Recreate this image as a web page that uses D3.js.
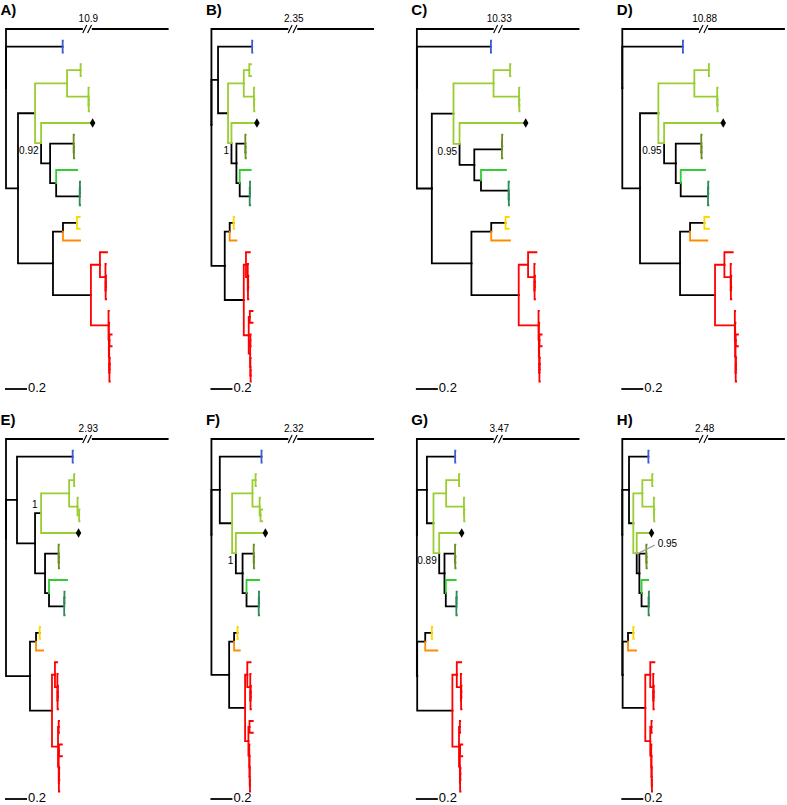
<!DOCTYPE html>
<html><head><meta charset="utf-8">
<script src="https://cdn.jsdelivr.net/npm/d3@7"></script>
<style>
html,body{margin:0;padding:0;background:#fff;}
svg{display:block;font-family:"Liberation Sans",Arial,Helvetica,sans-serif;}
</style></head>
<body>
<svg id="chart" width="787" height="805"></svg>
<script>
// ---------- DATA ----------
const panelLetters = ["A)", "B)", "C)", "D)", "E)", "F)", "G)", "H)"];
const outgroupLengths = ["10.9", "2.35", "10.33", "10.88", "2.93", "2.32", "3.47", "2.48"];
// support label placement per panel
const supportStyle = ["below", "below", "below", "below", "above", "below", "below", "leader"];
// Trees in Newick; node name = colour code, optional "#support"
const newick = [
"(out:1,(b:0.002,b:0.002):0.515,((((g:0.003,g:0.003)g:0.123,(g:0.003,(g:0.003,g:0.003)g:0.002)g:0.195)g:0.291,(d:0.464,((o:0.003,(o:0.003,o:0.003)o:0.002):0.214,(l:0.191,((t:0.002,t:0.002)t:0.002,t:0.004):0.214):0.055):0.082)g#0.92:0.055):0.155,(((y:0.025,y:0.025):0.127,n:0.155):0.091,((r:0.064,(r:0.003,((r:0.002,r:0.002)r:0.002,r:0.004)r:0.002)r:0.05)r:0.082,(r:0.003,(r:0.003,((r:0.02,r:0.02)r:0.002,((r:0.002,r:0.002)r:0.002,r:0.004)r:0.002)r:0.003)r:0.003)r:0.16):0.345):0.318):0.109);",
"(out:1,((b:0.002,b:0.002):0.31,(((g:0.015,g:0.015)g:0.05,(g:0.003,(g:0.003,g:0.003)g:0.002)g:0.092)g:0.143,(d:0.227,((o:0.003,(o:0.003,o:0.003)o:0.002):0.081,(l:0.1,((t:0.002,t:0.002)t:0.002,t:0.004):0.091):0.03):0.045)g#1:0.031):0.091):0.06,(((y:0.004,y:0.004):0.036,n:0.061):0.045,((r:0.035,(r:0.003,((r:0.002,r:0.002)r:0.002,r:0.004)r:0.002)r:0.016)r:0.02,((r:0.025,r:0.025)r:0.01,((r:0.003,r:0.003)r:0.002,(r:0.003,(r:0.002,r:0.002)r:0.002)r:0.002)r:0.013)r:0.045):0.173):0.121);",
"(out:1,(b:0.002,b:0.002):0.673,((((g:0.003,g:0.003)g:0.15,(g:0.003,(g:0.003,g:0.003)g:0.002)g:0.232)g:0.364,(d:0.597,(((o:0.002,o:0.002)o:0.002,o:0.004):0.251,(l:0.227,(t:0.004,(t:0.002,t:0.002)t:0.002):0.251):0.061):0.134)g#0.95:0.055):0.197,(((y:0.03,y:0.03):0.13,n:0.17):0.18,((r:0.076,(r:0.003,((r:0.002,r:0.002)r:0.002,r:0.004)r:0.002)r:0.057)r:0.085,(r:0.003,(r:0.003,((r:0.02,r:0.02)r:0.002,((r:0.002,r:0.002)r:0.002,r:0.004)r:0.002)r:0.003)r:0.003)r:0.18):0.43):0.36):0.136);",
"(out:1,(b:0.002,b:0.002):0.551,((((g:0.003,g:0.003)g:0.132,(g:0.003,(g:0.003,g:0.003)g:0.002)g:0.208)g:0.327,(d:0.533,((o:0.003,(o:0.003,o:0.003)o:0.002):0.232,(l:0.221,((t:0.002,t:0.002)t:0.002,t:0.004):0.248):0.045):0.106)g#0.95:0.052):0.167,(((y:0.042,y:0.042):0.13,n:0.157):0.091,((r:0.076,(r:0.003,((r:0.002,r:0.002)r:0.002,r:0.004)r:0.002)r:0.057)r:0.085,(r:0.003,(r:0.003,((r:0.02,r:0.02)r:0.002,((r:0.002,r:0.002)r:0.002,r:0.004)r:0.002)r:0.003)r:0.003)r:0.18):0.318):0.364):0.161);",
"(out:1,((b:0.002,b:0.002):0.506,((((g:0.003,g:0.003)g:0.045,(g:0.003,(g:0.003,g:0.003)g:0.015)g:0.076)g:0.255,d:0.336)#1:0.055,((o:0.003,(o:0.003,o:0.003)o:0.002):0.123,(l:0.164,((t:0.002,t:0.002)t:0.002,t:0.004):0.138):0.036):0.091):0.164):0.1,(((y:0.004,y:0.004):0.033,n:0.064):0.055,((r:0.02,(r:0.003,((r:0.002,r:0.002)r:0.002,r:0.004)r:0.002)r:0.022)r:0.027,((r:0.003,r:0.003)r:0.006,((r:0.027,r:0.027)r:0.002,((r:0.002,r:0.002)r:0.002,r:0.004)r:0.002)r:0.006)r:0.055):0.2):0.218);",
"(out:1,((b:0.002,b:0.002):0.379,(((g:0.003,g:0.003)g:0.028,(g:0.003,(g:0.015,g:0.015)g:0.008)g:0.065)g:0.185,(d:0.264,((o:0.003,(o:0.003,o:0.003)o:0.002):0.101,(l:0.115,((t:0.002,t:0.002)t:0.002,t:0.004):0.111):0.036):0.061)g#1:0.034):0.112):0.076,(((y:0.004,y:0.004):0.031,n:0.052):0.045,((r:0.03,(r:0.003,((r:0.002,r:0.002)r:0.002,r:0.004)r:0.002)r:0.027)r:0.02,((r:0.03,r:0.03)r:0.01,(r:0.002,(r:0.002,(r:0.002,(r:0.002,r:0.002)r:0.002)r:0.002)r:0.002)r:0.008)r:0.03):0.145):0.161);",
"(out:1,((b:0.002,b:0.002):0.257,(((g:0.003,g:0.003)g:0.117,(g:0.003,(g:0.003,g:0.003)g:0.002)g:0.162)g:0.115,(d:0.2,((o:0.003,(o:0.003,o:0.003)o:0.002):0.096,(l:0.09,((t:0.002,t:0.002)t:0.002,t:0.004):0.096):0.012):0.048)g#0.89:0.052):0.06):0.091,(((y:0.004,y:0.004):0.06,n:0.11):0.073,((r:0.04,(r:0.003,((r:0.002,r:0.002)r:0.002,r:0.004)r:0.002)r:0.037)r:0.04,((r:0.003,r:0.003)r:0.008,((r:0.02,r:0.02)r:0.002,((r:0.002,r:0.002)r:0.002,r:0.004)r:0.002)r:0.008)r:0.06):0.32):0.003);",
"(out:1,((b:0.002,b:0.002):0.176,(((g:0.003,g:0.003)g:0.09,(g:0.003,(g:0.003,g:0.003)g:0.002)g:0.105)g:0.082,(d:0.13,((o:0.003,(o:0.003,o:0.003)o:0.002):0.063,(l:0.06,((t:0.002,t:0.002)t:0.002,t:0.004):0.064):0.02):0.024)g#0.95:0.031):0.039):0.061,(((y:0.004,y:0.004):0.048,n:0.073):0.049,((r:0.038,(r:0.003,((r:0.002,r:0.002)r:0.002,r:0.004)r:0.002)r:0.027)r:0.045,((r:0.003,r:0.003)r:0.011,(r:0.002,(r:0.002,(r:0.002,(r:0.002,r:0.002)r:0.002)r:0.002)r:0.002)r:0.009)r:0.045):0.206):0.003);"
];
const cladeColors = {"": "#000000", out: "#000000", b: "#3b5fce", g: "#9acd32", d: "#9acd32",
  o: "#6b8e23", l: "#32cd32", t: "#2e8b57", y: "#ffd700", n: "#ff8c00", r: "#ff0000"};
const scaleBarValue = 0.2;
const outgroupDisplay = 1.47; // truncated display length of the broken outgroup branch

// ---------- PARSER ----------
function parseNewick(s) {
  let i = 0;
  function node() {
    const n = {children: []};
    if (s[i] === "(") {
      i++;
      n.children.push(node());
      while (s[i] === ",") { i++; n.children.push(node()); }
      i++;
    }
    let name = "";
    while (i < s.length && !":,);".includes(s[i])) name += s[i++];
    let len = 0;
    if (s[i] === ":") { i++; let t = ""; while (i < s.length && !",);".includes(s[i])) t += s[i++]; len = +t; }
    const parts = name.split("#");
    n.col = parts[0] || "";
    if (parts.length > 1) n.support = parts[1];
    n.len = len;
    if (!n.children.length) delete n.children;
    return n;
  }
  return node();
}

// ---------- DRAW ----------
const svg = d3.select("#chart");
const colX = d3.scaleLinear().domain([0, 3]).range([6, 622.3]);
const rowY = d3.scaleLinear().domain([0, 1]).range([29, 439]);
const x = d3.scaleLinear().domain([0, 1]).range([0, 110]);
const y = d3.scaleLinear().domain([0, 30]).range([0, 352.5]);
const LW = 1.8;
const isBlack = d => d.data.col === "" || d.data.col === "out";

newick.forEach((nwk, pi) => {
  const col = pi % 4, row = Math.floor(pi / 4);
  const g = svg.append("g").attr("transform", `translate(${colX(col)},${rowY(row)})`);
  const root = d3.hierarchy(parseNewick(nwk));
  root.eachBefore(d => {
    d.dist = d.parent ? d.parent.dist + (d.data.col === "out" ? outgroupDisplay : d.data.len) : 0;
    d.px = x(d.dist);
  });
  root.leaves().forEach((l, k) => { l.py = y(k); });
  root.eachAfter(d => { if (d.children) d.py = d3.mean(d.children, c => c.py); });

  const links = root.descendants().filter(d => d.parent);
  links.sort((a, b) => (isBlack(a) ? 0 : 1) - (isBlack(b) ? 0 : 1));
  g.selectAll("path.branch").data(links).join("path")
    .attr("class", "branch")
    .attr("d", d => `M${d.parent.px},${d.parent.py}V${d.py}H${d.px}`)
    .attr("fill", "none")
    .attr("stroke", d => cladeColors[d.data.col])
    .attr("stroke-width", LW)
    .attr("stroke-linecap", "square")
    .attr("stroke-linejoin", "miter");

  // outgroup break
  const out = links.find(d => d.data.col === "out");
  const bx = x(outgroupDisplay / 2) + 0.5;
  g.append("rect").attr("x", bx - 4.5).attr("y", out.py - 3).attr("width", 9).attr("height", 6).attr("fill", "#fff");
  [-2.6, 2.2].forEach(o => {
    g.append("line").attr("x1", bx + o - 2).attr("y1", out.py + 4).attr("x2", bx + o + 2).attr("y2", out.py - 4)
      .attr("stroke", "#000").attr("stroke-width", 1.1);
  });
  g.append("text").attr("x", bx + 1).attr("y", out.py - 7).attr("text-anchor", "middle")
    .attr("font-size", 10).text(outgroupLengths[pi]);

  // diamond tip
  root.leaves().filter(d => d.data.col === "d").forEach(d => {
    g.append("path").attr("d", d3.symbol(d3.symbolDiamond, 26)())
      .attr("transform", `translate(${d.px + 0.5},${d.py})`).attr("fill", "#000");
  });

  // support label
  root.descendants().filter(d => d.data.support !== undefined).forEach(d => {
    const st = supportStyle[pi];
    if (st === "below") {
      g.append("text").attr("x", d.px - 2.5).attr("y", d.py + 11).attr("text-anchor", "end")
        .attr("font-size", 10).text(d.data.support);
    } else if (st === "above") {
      g.append("text").attr("x", d.px - 3.5).attr("y", d.py - 5.5).attr("text-anchor", "end")
        .attr("font-size", 10).text(d.data.support);
    } else {
      g.append("line").attr("x1", d.px).attr("y1", d.py + 1).attr("x2", d.px + 18).attr("y2", d.py - 8)
        .attr("stroke", "#a0a0a0").attr("stroke-width", 1.3);
      g.append("text").attr("x", d.px + 21).attr("y", d.py - 6).attr("text-anchor", "start")
        .attr("font-size", 10).text(d.data.support);
    }
  });

  // panel letter
  g.append("text").attr("x", -5.5).attr("y", -14).attr("font-size", 15).attr("font-weight", "bold")
    .text(panelLetters[pi]);

  // scale bar
  const sy = y(30) + 7.5;
  g.append("line").attr("x1", -1).attr("x2", -1 + x(scaleBarValue)).attr("y1", sy).attr("y2", sy)
    .attr("stroke", "#000").attr("stroke-width", LW);
  g.append("text").attr("x", x(scaleBarValue)).attr("y", sy - 1.5).attr("dy", "0.36em")
    .attr("font-size", 13).text(String(scaleBarValue));
});
</script>
</body></html>
